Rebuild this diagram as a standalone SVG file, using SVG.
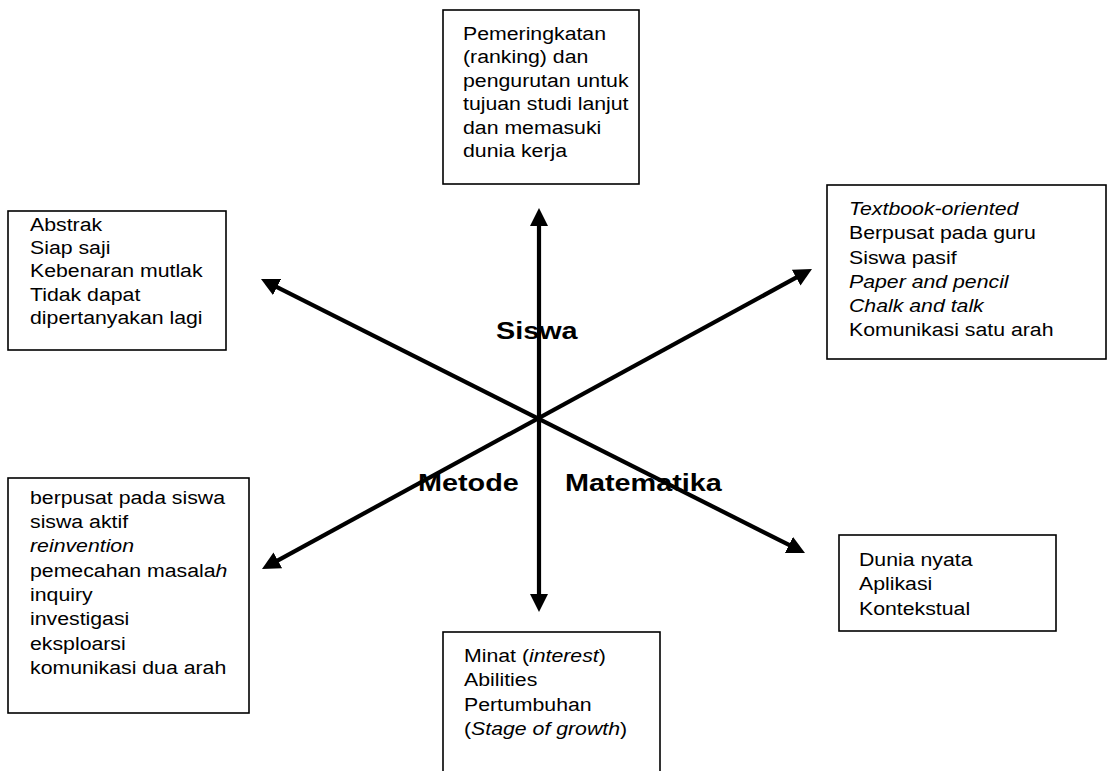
<svg xmlns="http://www.w3.org/2000/svg" width="1107" height="771" viewBox="0 0 1107 771">
<style>
.box{fill:#fff;stroke:#000;stroke-width:1.6}
.t{font-family:"Liberation Sans",Arial,sans-serif;font-size:19px;fill:#000}
.lbl{font-family:"Liberation Sans",Arial,sans-serif;font-size:24px;font-weight:bold;fill:#000}
.i{font-style:italic}
.ax{stroke:#000;stroke-width:4.2;fill:none;marker-start:url(#ah);marker-end:url(#ah)}
</style>
<defs>
<marker id="ah" markerUnits="userSpaceOnUse" markerWidth="18" markerHeight="18" viewBox="0 0 18 18" refX="4" refY="9" orient="auto-start-reverse">
<path d="M0,0 L18,9 L0,18 z" fill="#000"/>
</marker>
</defs>
<rect width="1107" height="771" fill="#fff"/>
<g id="connectors">
<path class="ax" d="M539,222 L539,598"/>
<path class="ax" d="M273.5,285.3 L792.5,546.7"/>
<path class="ax" d="M799.7,275.7 L274.3,562.3"/>
</g>
<g id="node-top">
<rect class="box" x="443" y="10" width="196" height="174"/>
<text class="t" transform="translate(463,40) scale(1.12,1)"><tspan x="0" y="0">Pemeringkatan</tspan><tspan x="0" dy="23.4">(ranking) dan</tspan><tspan x="0" dy="23.4">pengurutan untuk</tspan><tspan x="0" dy="23.4">tujuan studi lanjut</tspan><tspan x="0" dy="23.4">dan memasuki</tspan><tspan x="0" dy="23.4">dunia kerja</tspan></text>
</g>
<g id="node-topleft">
<rect class="box" x="8" y="211" width="218" height="139"/>
<text class="t" transform="translate(30,230.5) scale(1.12,1)"><tspan x="0" y="0">Abstrak</tspan><tspan x="0" dy="23.4">Siap saji</tspan><tspan x="0" dy="23.4">Kebenaran mutlak</tspan><tspan x="0" dy="23.4">Tidak dapat</tspan><tspan x="0" dy="23.4">dipertanyakan lagi</tspan></text>
</g>
<g id="node-topright">
<rect class="box" x="827" y="185" width="279" height="174"/>
<text class="t" transform="translate(849,215) scale(1.12,1)"><tspan x="0" y="0" class="i">Textbook-oriented</tspan><tspan x="0" dy="24.3">Berpusat pada guru</tspan><tspan x="0" dy="24.3">Siswa pasif</tspan><tspan x="0" dy="24.3" class="i">Paper and pencil</tspan><tspan x="0" dy="24.3" class="i">Chalk and talk</tspan><tspan x="0" dy="24.3">Komunikasi satu arah</tspan></text>
</g>
<g id="node-bottomleft">
<rect class="box" x="8" y="478" width="241" height="235"/>
<text class="t" transform="translate(30,503.5) scale(1.12,1)"><tspan x="0" y="0">berpusat pada siswa</tspan><tspan x="0" dy="24.4">siswa aktif</tspan><tspan x="0" dy="24.4" class="i">reinvention</tspan><tspan x="0" dy="24.4">pemecahan masala<tspan class="i">h</tspan></tspan><tspan x="0" dy="24.4">inquiry</tspan><tspan x="0" dy="24.4">investigasi</tspan><tspan x="0" dy="24.4">eksploarsi</tspan><tspan x="0" dy="24.4">komunikasi dua arah</tspan></text>
</g>
<g id="node-bottom">
<rect class="box" x="443" y="632" width="217" height="160"/>
<text class="t" transform="translate(464,662) scale(1.12,1)"><tspan x="0" y="0">Minat (<tspan class="i">interest</tspan>)</tspan><tspan x="0" dy="24.3">Abilities</tspan><tspan x="0" dy="24.3">Pertumbuhan</tspan><tspan x="0" dy="24.3">(<tspan class="i">Stage of growth</tspan>)</tspan></text>
</g>
<g id="node-bottomright">
<rect class="box" x="839" y="535" width="217" height="96"/>
<text class="t" transform="translate(859,566) scale(1.12,1)"><tspan x="0" y="0">Dunia nyata</tspan><tspan x="0" dy="24.5">Aplikasi</tspan><tspan x="0" dy="24.5">Kontekstual</tspan></text>
</g>
<g id="label-siswa"><text class="lbl" transform="translate(496,339) scale(1.2,1)">Siswa</text></g>
<g id="label-metode"><text class="lbl" transform="translate(418,491) scale(1.2,1)">Metode</text></g>
<g id="label-matematika"><text class="lbl" transform="translate(565,491) scale(1.2,1)">Matematika</text></g>
</svg>
